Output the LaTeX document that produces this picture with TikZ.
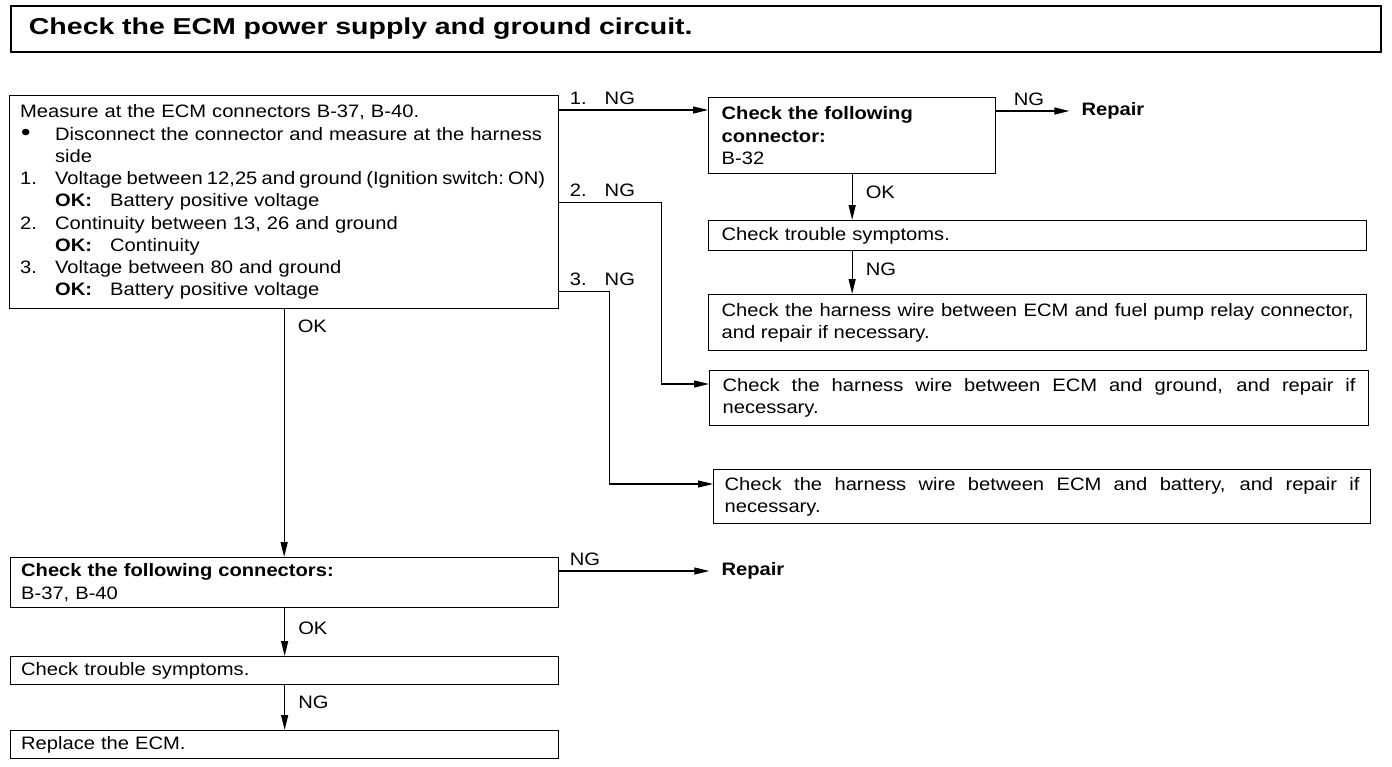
\documentclass[tikz,border=0pt]{standalone}
\usepackage{fontspec}
\setmainfont{Liberation Sans}[FakeStretch=1.12]
\newfontfamily\titlefont{Liberation Sans}[FakeStretch=1.24]
\usetikzlibrary{arrows.meta,positioning,calc}

\begin{document}
\begin{tikzpicture}[x=1pt, y=-1pt,
  box/.style={draw, line width=1.3pt, anchor=north west, align=left,
              inner xsep=10.5pt, inner ysep=0pt,
              font=\fontsize{18}{22.25}\selectfont},
  rbox/.style={box, inner xsep=13pt},
  jbox/.style={rbox, align=justify},
  arr/.style={-{Triangle[length=15pt, width=7pt]}, line width=1.2pt},
  lbl/.style={font=\fontsize{18}{20}\selectfont, inner sep=0pt, anchor=base west},
  rep/.style={font=\bfseries\fontsize{18}{20}\selectfont, inner sep=0pt,
              inner xsep=12pt}]

  \useasboundingbox (0,0) rectangle (1392,766);

  \node[draw, line width=1.8pt, anchor=north west, minimum height=46pt,
        text width=1334pt, inner xsep=18pt, align=left,
        font=\titlefont\bfseries\fontsize{23}{26}\selectfont] (title) at (10,5)
        {Check the ECM power supply and ground circuit.};

  % left column
  \node[box, text width=528pt, minimum height=213pt] (meas) at (9,95)
    {Measure at the ECM connectors B-37, B-40.\\
     \makebox[35pt][l]{\hspace{1pt}\fontsize{24}{20}\selectfont\textbullet}%
       \makebox[493pt][s]{Disconnect the connector and measure at the harness}\\
     \hspace*{35pt}side\\
     \makebox[35pt][l]{1.}\makebox[490pt][s]{\spaceskip=3.5pt plus 2pt minus 1pt
       \xspaceskip=\spaceskip Voltage between 12,25 and ground (Ignition switch: ON)}\\
     \hspace*{35pt}\textbf{OK:}\hspace{18pt}Battery positive voltage\\
     \makebox[35pt][l]{2.}Continuity between 13, 26 and ground\\
     \hspace*{35pt}\textbf{OK:}\hspace{18pt}Continuity\\
     \makebox[35pt][l]{3.}Voltage between 80 and ground\\
     \hspace*{35pt}\textbf{OK:}\hspace{18pt}Battery positive voltage};
  \node[box, text width=527pt, minimum height=50pt] (conn) at (10,557)
    {\textbf{Check the following connectors:}\\B-37, B-40};
  \node[box, text width=527pt, minimum height=28pt] (trb2) at (10,656)
    {Check trouble symptoms.};
  \node[box, text width=527pt, minimum height=28pt] (repl) at (10,730)
    {Replace the ECM.};

  % right column
  \node[rbox, text width=261pt, minimum height=76pt] (b32) at (708,97)
    {\textbf{Check the following}\\\textbf{connector:}\\B-32};
  \node[rbox, text width=632pt, minimum height=30pt] (trb1) at (708,220)
    {Check trouble symptoms.};
  \node[jbox, text width=632pt, minimum height=56pt] (fuel) at (708,294)
    {Check the harness wire between ECM and fuel pump relay connector,\linebreak
     and repair if necessary.};
  \node[jbox, text width=633pt, minimum height=55pt] (gnd) at (709,370)
    {Check the harness wire between ECM and ground, and repair if\linebreak
     necessary.};
  \node[jbox, inner xsep=11pt, text width=635pt, minimum height=54pt] (bat) at (713,469)
    {Check the harness wire between ECM and battery, and repair if\linebreak
     necessary.};

  \node[rep, right=73pt of b32.north east, yshift=-14pt]  (rep1) {Repair};
  \node[rep, right=150pt of conn.north east, yshift=-14pt] (rep2) {Repair};

  % NG branches leave the right side of the measuring box
  \coordinate (ng1) at ($(meas.north east)+(0,15)$);
  \coordinate (ng3) at ($(meas.south east)+(0,-18)$);
  \draw[arr] (ng1) -- node[lbl, pos=0, xshift=10pt, yshift=6pt] {1.\hspace{18pt}NG}
    (b32.west |- ng1);
  \draw[arr] (meas.east) -- node[lbl, pos=0, xshift=10pt, yshift=6pt] {2.\hspace{18pt}NG}
    ++(102,0) |- ($(gnd.north west)+(0,14)$);
  \draw[arr] (ng3) -- node[lbl, pos=0, xshift=10pt, yshift=6pt] {3.\hspace{18pt}NG}
    ++(50,0) |- ($(bat.north west)+(0,15)$);
  \draw[arr] (b32.east |- rep1) -- node[lbl, pos=0, xshift=17pt, yshift=6pt] {NG} (rep1);
  \draw[arr] (conn.east |- rep2) -- node[lbl, pos=0, xshift=10pt, yshift=6pt] {NG} (rep2);

  % downward steps
  \draw[arr] (meas.south) -- node[lbl, pos=0, xshift=13pt, yshift=-23pt] {OK}
    (meas.south |- conn.north);
  \draw[arr] (b32.south) -- node[lbl, pos=0, xshift=13pt, yshift=-24pt] {OK}
    (b32.south |- trb1.north);
  \draw[arr] (b32.south |- trb1.south) -- node[lbl, pos=0, xshift=13pt, yshift=-24pt] {NG}
    (b32.south |- fuel.north);
  \draw[arr] (conn.south) -- node[lbl, pos=0, xshift=13pt, yshift=-26pt] {OK}
    (conn.south |- trb2.north);
  \draw[arr] (trb2.south) -- node[lbl, pos=0, xshift=13pt, yshift=-23pt] {NG}
    (trb2.south |- repl.north);
\end{tikzpicture}
\end{document}
